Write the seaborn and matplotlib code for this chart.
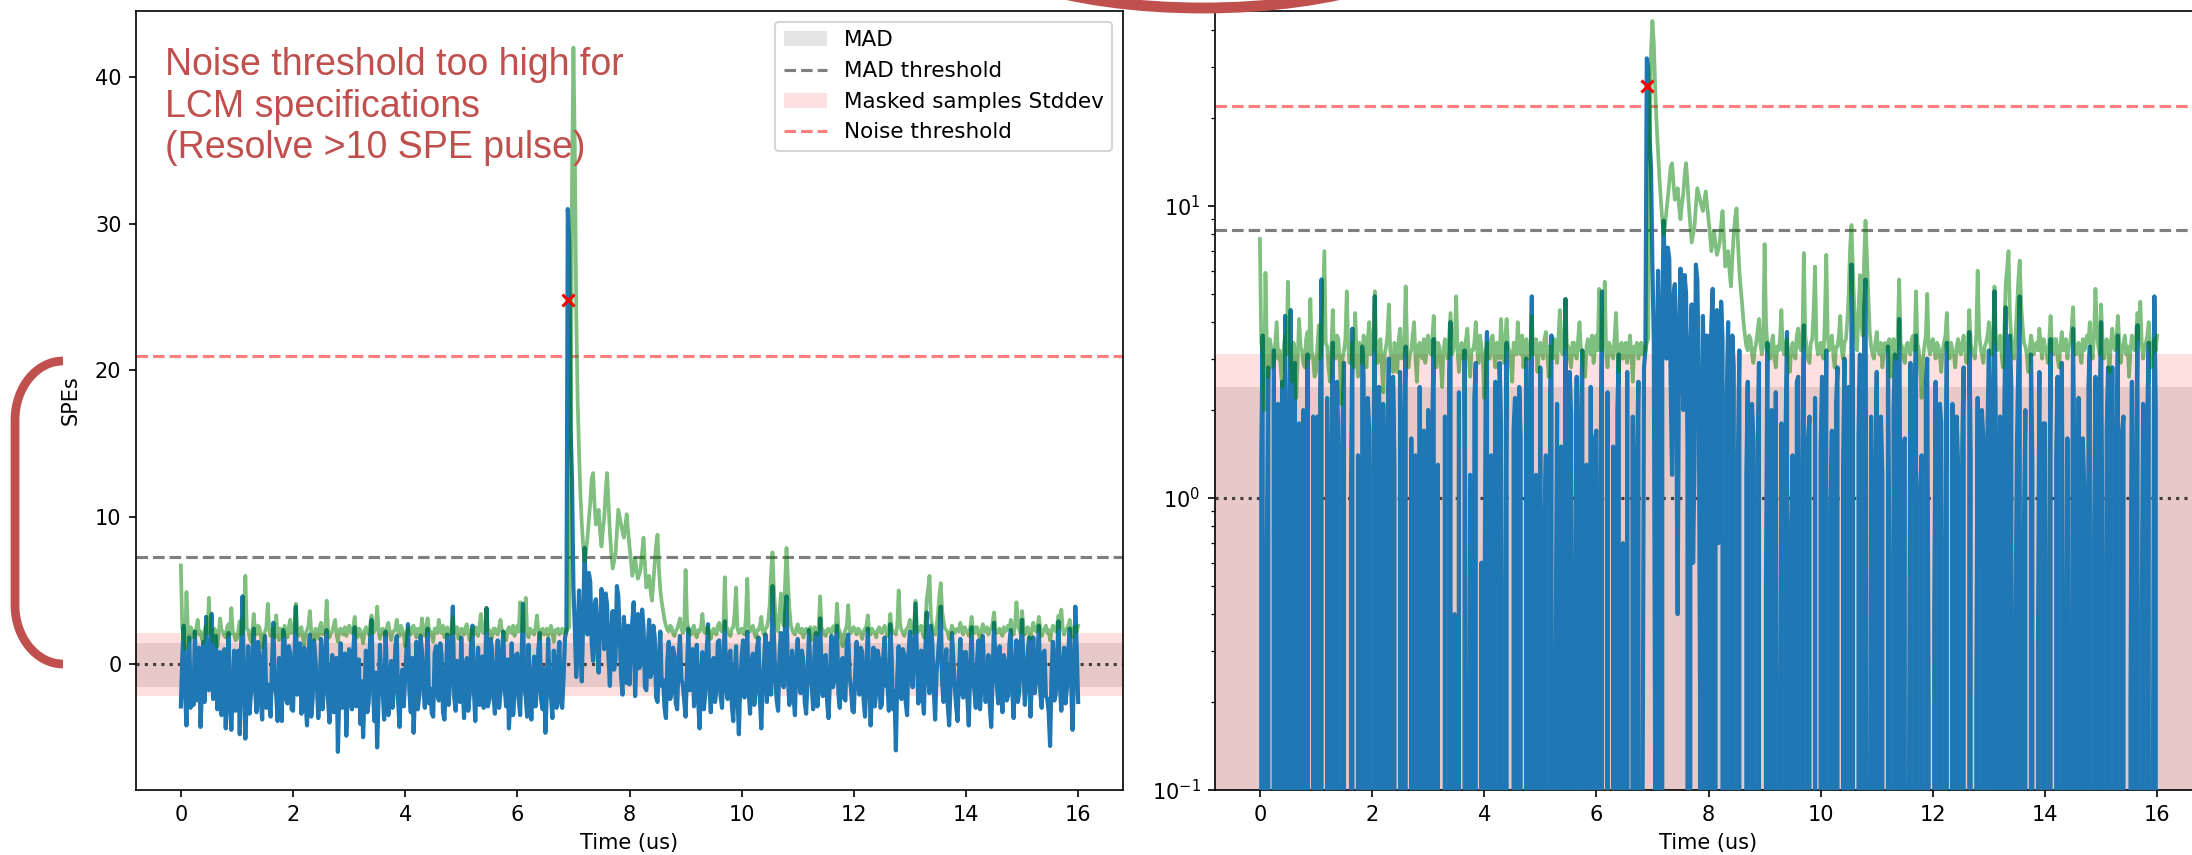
import numpy as np
import matplotlib
matplotlib.use("Agg")
import matplotlib.pyplot as plt
import seaborn as sns
from matplotlib.patches import Ellipse, PathPatch, Patch
from matplotlib.lines import Line2D
from matplotlib.path import Path
from matplotlib.transforms import IdentityTransform

# ---------------- data ----------------
sample_step_us = 0.025

# raw waveform (SPE units), 40 samples per microsecond
waveform_spe = [
    -2.9, 0.4, 2.6, -1.9, -4.2, -0.3, 1.8, -3.0, -1.2, -2.8, 2.2, -1.5, -2.5, 1.1, -4.3, -2.0, 1.5, -2.6, 3.2, -0.9,
    -1.8, 0.6, 3.4, -2.4, -0.6, 1.9, -3.1, -1.3, 0.8, -3.5, -2.2, 1.0, -4.4, -1.1, 2.1, -2.7, -4.5, -1.6, 0.9, -3.2,
    -2.6, 0.9, -4.8, 1.3, 4.6, -1.7, -5.1, -2.2, 1.2, -3.4, -2.0, 0.3, 2.4, -1.8, -3.3, 1.5, 0.5, -2.5, -3.8, 0.8,
    1.9, -3.0, -1.4, -2.6, -3.6, 0.1, 2.8, -1.6, -2.1, -3.9, 0.4, -1.2, -3.9, 2.3, 1.6, -2.4, -2.7, 1.2, 0.7, -3.1,
    -3.2, 0.2, 3.9, -2.1, -1.5, 1.4, -3.4, -1.9, 1.1, -2.7, -4.2, 0.5, 2.0, -3.6, -2.4, 1.6, 0.3, -1.4, -3.7, -2.2,
    1.7, -3.1, -1.9, 0.9, 2.3, -2.5, -4.0, -1.0, 0.6, -3.3, -2.8, 0.4, -6.0, -2.0, 1.4, -3.0, -2.3, 0.7, -4.9, -1.8,
    1.0, -2.2, -3.1, 0.8, 2.5, -2.9, -1.6, 0.3, -4.1, -1.2, -5.0, -1.9, 0.9, -3.3, -2.6, 1.7, 3.0, -1.5, -3.9, -0.6,
    -5.7, -2.4, 1.3, -1.1, -2.0, -3.8, 2.2, -0.8, -3.5, -2.1, 0.2, -3.0, -1.8, 1.2, 1.9, -2.6, -4.3, -1.4, -0.4, -2.9,
    -0.8, 1.1, 2.7, -1.9, -3.3, 0.4, -4.7, -2.0, 1.5, -3.1, -2.2, 1.9, 0.8, -1.6, -3.0, -0.5, 2.4, -2.7, -1.7, -3.4,
    -3.6, 0.7, 1.2, -2.1, -2.5, 1.4, 0.6, -3.3, -3.8, -1.2, 2.0, -2.8, -1.3, 1.0, 3.9, -2.3, -3.2, 0.2, -1.0, -2.6,
    1.8, -1.4, -3.7, -0.2, 0.4, -3.2, -2.1, 1.3, 2.6, -1.8, -3.9, -0.7, 1.1, -2.8, -1.6, 0.5, -3.0, -1.3, 3.8, -2.9,
    -2.4, 1.7, 0.9, -2.2, -3.4, -0.4, 1.6, -3.0, -1.9, 0.8, 2.2, -1.7, -2.9, 0.3, -4.4, -2.3, 1.4, -3.5, -2.0, 0.6,
    0.7, -2.4, -3.5, 0.1, 4.1, -1.5, -2.3, -3.6, 1.3, -2.0, -3.8, -1.1, 0.5, -2.9, -1.7, 1.0, 2.1, -2.5, -3.1, -0.3,
    -4.7, -2.2, 1.7, -1.4, -2.2, -3.7, 0.9, -1.8, -3.0, 0.4, 1.5, -2.6, -3.0, -0.9, 1.8, 2.2, 31.0, 28.7, 16.0, 12.5,
    5.2, 2.4, -0.9, 1.2, 5.0, 0.8, -1.2, 3.3, 7.9, 4.1, 2.0, 6.2, 5.6, 1.5, 0.2, 3.9, 4.4, 1.1, -0.6, 2.7,
    5.1, 3.0, 1.0, 4.8, 4.0, 0.5, -1.5, 2.2, 3.6, -0.4, 0.3, 5.3, 4.6, 1.8, -0.8, -2.1, 3.2, 1.4, -1.3, 2.6,
    -1.4, 0.9, 2.9, 4.2, -2.2, 0.6, 3.4, -0.3, 0.1, 3.7, 2.5, -1.6, -1.8, 1.2, 3.0, -0.9, -0.5, 2.6, 1.8, -2.3,
    -2.6, 0.4, 2.2, -1.5, -1.1, -3.0, -3.7, 0.2, 1.5, -2.4, -2.0, 1.1, 0.6, -2.7, -3.1, 0.3, 1.9, -1.0, -1.4, -2.5,
    -3.6, -0.5, 2.4, -1.8, -0.7, 1.0, -2.9, -1.2, 1.3, -2.5, -4.4, -0.8, 0.8, -3.1, -2.1, 0.7, 2.7, -1.4, -3.3, -0.2,
    0.4, -2.6, -1.8, 1.5, 1.6, -2.2, -3.0, 0.3, 2.9, -1.7, -2.4, 0.6, 0.9, -2.8, -3.9, -1.0, 1.2, -2.0, -4.8, -1.3,
    0.5, 1.6, -2.3, -0.6, 2.2, -1.9, -3.4, -0.1, 0.7, -2.8, -1.9, 1.1, 1.8, -2.4, -4.4, -1.5, 0.3, 2.0, -2.6, -0.7,
    1.4, -2.1, 5.3, 1.9, -1.0, -2.5, -3.2, 0.6, 2.1, -1.1, -1.6, 3.4, 4.6, -0.9, -2.8, -1.4, 0.9, -2.2, -3.5, 0.2,
    1.7, -1.3, -2.0, 0.9, 0.2, -2.6, -3.4, -1.0, 2.3, -0.4, -1.5, -3.1, 1.0, 2.1, -2.9, -1.8, 3.1, -0.7, -2.2, 0.5,
    0.6, -2.7, -3.7, -0.9, 1.9, -1.6, -1.2, 1.3, 2.6, -2.0, -3.0, 0.1, 0.4, -2.3, -2.5, 1.5, 2.0, -0.8, -1.7, -3.2,
    -3.3, -0.6, 1.5, -1.4, -2.1, 1.1, 0.8, -2.5, -3.6, -0.3, 2.4, -1.2, -4.2, -1.7, 1.1, -2.9, -1.9, 0.9, 0.3, -3.0,
    -2.8, 0.5, 1.8, -1.5, -1.3, -3.2, 2.7, 0.4, -3.1, -1.9, -5.9, -0.8, 1.2, -2.1, -2.4, 1.0, 0.6, -2.6, -3.5, 0.7,
    2.2, -0.5, -1.6, 1.3, 4.1, 0.6, -2.7, -1.2, 0.9, -2.2, -3.4, 1.0, 3.5, -0.9, -2.0, 2.6, 1.4, -1.7, -3.8, -0.6,
    0.5, 1.9, 3.9, -1.3, -2.6, -0.2, 1.0, -2.8, -4.2, -1.5, 2.1, 0.3, -1.5, -2.9, -3.9, -0.7, 1.7, -1.9, -2.3, 0.8,
    0.8, -2.3, -4.2, -0.4, 2.5, -1.1, -1.8, -3.0, 0.4, 1.6, -3.1, -1.6, 1.9, -0.7, -2.6, -1.3, 0.6, -2.9, -4.3, -0.9,
    2.8, 0.2, -1.4, -2.7, 1.2, -1.0, -3.3, 0.6, 0.1, -2.5, -2.2, 1.4, 2.3, -1.8, -3.7, -0.3, 1.6, -2.6, -1.9, 1.1,
    3.0, -0.4, -2.8, -1.5, 0.7, 1.8, -3.6, -1.1, 1.8, -2.0, -1.2, 0.4, 2.6, -1.9, -3.0, 0.7, 0.9, -2.2, -2.4, -3.3,
    -5.6, -0.8, 1.5, -2.5, -2.1, 0.5, 2.9, -1.4, -3.2, -0.6, 1.1, -2.7, -1.6, 0.9, 2.4, -1.2, -4.5, -0.9, 3.9, 1.0,
    -2.6,
]

# filtered waveform (SPE units), 40 samples per microsecond
filtered_spe = [
    6.7, 2.4, 2.1, 1.0, 4.9, 2.2, 1.6, 2.5, 2.3, 1.8, 1.9, 2.4, 3.0, 2.0, 2.2, 1.7, 1.4, 2.3, 2.6, 2.1,
    4.5, 2.2, 2.0, 1.5, 2.4, 2.2, 1.2, 2.0, 3.1, 2.3, 2.2, 1.9, 1.8, 2.5, 2.7, 2.0, 3.8, 2.2, 2.0, 1.6,
    1.7, 2.3, 2.9, 2.0, 2.1, 3.6, 6.0, 2.4, 2.3, 1.8, 1.5, 2.2, 3.4, 2.1, 2.0, 2.6, 2.5, 1.9, 1.1, 2.0,
    2.2, 2.5, 4.1, 2.3, 1.9, 2.2, 2.4, 1.8, 3.3, 2.1, 1.6, 2.4, 2.1, 1.9, 2.6, 2.2, 1.8, 2.5, 3.0, 2.1,
    2.2, 2.6, 4.1, 2.2, 1.9, 2.3, 2.5, 1.8, 1.3, 2.1, 2.3, 2.6, 3.6, 2.2, 2.0, 1.7, 2.4, 2.2, 1.7, 2.5,
    2.8, 2.0, 2.1, 2.4, 4.3, 2.3, 1.8, 2.1, 2.2, 2.6, 3.0, 2.0, 1.5, 2.3, 2.4, 2.1, 2.0, 2.5, 1.9, 2.2,
    2.6, 2.2, 2.1, 2.5, 3.2, 2.0, 1.8, 2.4, 2.3, 1.9, 1.4, 2.2, 2.5, 2.3, 2.0, 2.6, 3.3, 2.1, 2.2, 2.5,
    3.9, 2.2, 1.7, 2.3, 2.4, 2.0, 2.0, 2.5, 2.8, 2.1, 1.6, 2.2, 2.2, 2.4, 3.0, 2.2, 1.9, 2.6, 2.3, 2.0,
    1.2, 2.1, 2.4, 2.2, 2.0, 2.5, 2.6, 2.1, 1.8, 2.4, 2.3, 2.0, 3.1, 2.2, 1.9, 2.5, 3.1, 2.3, 2.2, 1.9,
    1.5, 2.4, 2.4, 2.1, 3.0, 2.2, 2.1, 2.6, 1.8, 2.3, 2.5, 2.0, 2.0, 2.4, 3.2, 2.1, 2.3, 2.5, 1.7, 2.2,
    2.4, 2.2, 2.0, 2.5, 2.7, 2.1, 1.6, 2.3, 2.2, 2.0, 2.5, 2.3, 1.9, 2.6, 3.4, 2.2, 2.1, 2.4, 3.8, 2.3,
    2.3, 2.0, 1.8, 2.4, 2.4, 2.1, 2.0, 2.5, 3.0, 2.2, 2.2, 1.9, 1.6, 2.3, 2.5, 2.2, 2.1, 2.6, 1.9, 2.2,
    2.6, 2.2, 4.2, 2.3, 2.2, 2.6, 4.5, 2.1, 1.8, 2.4, 2.3, 2.1, 2.0, 2.5, 3.3, 2.2, 1.7, 2.3, 2.4, 2.0,
    2.1, 2.4, 1.9, 2.2, 2.6, 2.1, 1.5, 2.3, 2.2, 2.4, 2.0, 2.2, 2.4, 2.1, 2.3, 2.2, 2.4, 2.5, 14.0, 33.0,
    42.0, 35.0, 24.0, 18.0, 14.5, 11.5, 9.5, 8.0, 7.0, 7.6, 8.6, 9.8, 11.0, 12.6, 13.0, 11.0, 9.5, 9.9, 10.5, 9.0,
    8.0, 9.1, 10.0, 11.8, 13.0, 11.0, 9.0, 7.6, 6.5, 7.0, 7.5, 9.0, 10.5, 10.0, 9.5, 9.0, 8.6, 9.4, 10.2, 9.0,
    8.0, 7.1, 6.0, 6.6, 7.2, 6.4, 5.8, 6.1, 6.5, 7.6, 8.6, 6.8, 5.2, 5.5, 6.0, 5.0, 4.3, 5.6, 7.0, 8.1,
    8.8, 6.5, 5.0, 4.2, 3.6, 3.0, 2.6, 2.3, 2.2, 2.6, 2.5, 2.1, 1.9, 2.2, 2.4, 2.7, 3.1, 2.4, 2.1, 2.3,
    6.4, 3.0, 2.3, 2.1, 2.0, 2.4, 2.6, 2.0, 1.8, 2.3, 2.2, 2.5, 3.4, 2.2, 2.1, 2.4, 2.5, 2.0, 1.7, 2.2,
    2.4, 2.1, 2.0, 2.6, 2.8, 2.3, 2.2, 2.5, 5.9, 2.6, 2.3, 2.0, 1.9, 2.4, 2.5, 3.4, 5.2, 2.4, 2.1, 2.3,
    2.4, 2.1, 2.0, 3.1, 5.8, 2.6, 2.2, 2.4, 2.6, 2.1, 1.8, 2.3, 2.3, 2.6, 3.2, 2.2, 2.0, 2.4, 2.5, 3.0,
    4.0, 6.2, 7.6, 5.0, 3.5, 2.6, 2.2, 3.3, 4.8, 3.0, 2.6, 5.5, 7.9, 5.6, 3.8, 2.7, 2.3, 2.1, 2.0, 2.4,
    2.7, 2.2, 2.1, 2.4, 1.8, 2.1, 2.4, 2.2, 2.2, 2.5, 1.6, 2.1, 2.5, 2.3, 2.0, 2.6, 4.6, 2.4, 2.3, 2.0,
    1.9, 2.3, 2.4, 2.2, 2.1, 2.5, 2.6, 2.2, 4.1, 2.4, 2.2, 1.7, 1.2, 2.0, 2.3, 2.6, 4.0, 2.3, 2.1, 2.4,
    2.5, 2.2, 2.0, 2.4, 2.3, 2.1, 1.7, 2.2, 2.4, 2.6, 3.3, 2.2, 2.0, 2.4, 2.2, 2.1, 1.8, 2.3, 2.5, 2.2,
    2.1, 2.4, 2.6, 2.2, 1.9, 2.3, 3.4, 2.4, 2.2, 2.1, 2.0, 2.6, 5.0, 2.7, 2.3, 2.1, 1.9, 2.3, 2.4, 2.6,
    3.0, 2.4, 2.1, 2.6, 4.3, 2.5, 2.2, 2.4, 2.6, 2.1, 1.8, 2.7, 4.4, 5.1, 6.0, 3.2, 2.5, 2.2, 2.0, 2.6,
    3.4, 4.6, 5.5, 3.6, 2.9, 2.4, 2.3, 2.1, 1.7, 2.2, 2.6, 2.4, 2.1, 2.3, 2.4, 2.2, 2.8, 2.3, 2.0, 2.5,
    2.3, 2.2, 1.9, 2.4, 3.2, 2.3, 2.1, 2.5, 2.5, 2.0, 1.8, 2.3, 2.7, 2.2, 2.2, 2.5, 2.0, 2.3, 2.4, 2.8,
    3.5, 2.4, 2.1, 2.2, 2.4, 2.1, 1.9, 2.5, 2.2, 2.3, 2.6, 2.4, 3.0, 2.2, 2.0, 2.6, 4.2, 2.8, 2.3, 2.1,
    3.6, 2.5, 2.0, 2.3, 2.5, 2.2, 1.7, 2.4, 2.8, 2.3, 2.2, 2.5, 3.2, 2.4, 1.9, 2.2, 2.4, 2.6, 2.1, 2.3,
    1.6, 2.2, 2.6, 2.4, 2.2, 2.6, 3.3, 2.5, 3.7, 2.4, 2.0, 2.3, 2.4, 2.6, 3.0, 2.3, 1.8, 2.4, 2.5, 2.2,
    2.6,
]

mad_band = [-1.55, 1.40]
std_band = [-2.20, 2.10]
mad_threshold = 7.3
noise_threshold = 21.0
baseline = 0.0
peak_time_us = 6.9
peak_value = 24.8
log_offset = 1.0

legend_labels = ["MAD", "MAD threshold", "Masked samples Stddev", "Noise threshold"]
annotation_text = "Noise threshold too high for\nLCM specifications\n(Resolve >10 SPE pulse)"

wave = np.array(waveform_spe)
filt = np.array(filtered_spe)
t_wave = np.arange(len(wave)) * sample_step_us
t_filt = np.arange(len(filt)) * sample_step_us

# ---------------- figure ----------------
W, H, DPI = 2192, 855, 150
fig = plt.figure(figsize=(W / DPI, H / DPI), dpi=DPI)
ax1 = fig.add_axes([136 / W, 1 - 790 / H, (1123 - 136) / W, (790 - 11) / H])
ax2 = fig.add_axes([1215 / W, 1 - 790 / H, (2202 - 1215) / W, (790 - 11) / H])

annot_red = "#C0504D"


def draw_panel(ax, off, log=False):
    lo = 1e-4

    def low(v):
        return max(v + off, lo) if log else v + off

    ax.axhspan(low(mad_band[0]), mad_band[1] + off, color="gray", alpha=0.2, lw=0, zorder=1)
    ax.axhline(mad_threshold + off, color="k", ls="--", alpha=0.5, lw=1.5, zorder=2)
    ax.axhspan(low(std_band[0]), std_band[1] + off, color="red", alpha=0.12, lw=0, zorder=1)
    ax.axhline(noise_threshold + off, color="red", ls="--", alpha=0.5, lw=1.5, zorder=2)
    ax.axhline(baseline + off, color="k", ls=":", alpha=0.7, lw=1.5, zorder=2)
    sns.lineplot(x=t_wave, y=wave + off, ax=ax, color="#1f77b4", lw=2.0,
                 estimator=None, sort=False, zorder=3)
    sns.lineplot(x=t_filt, y=filt + off, ax=ax, color="green", alpha=0.5, lw=1.8,
                 estimator=None, sort=False, zorder=3)
    ax.plot([peak_time_us], [peak_value + off], "x", color="red", ms=6, mew=1.5, zorder=4)
    ax.set_xlim(-0.8, 16.8)
    ax.set_xlabel("Time (us)")
    ax.set_ylabel("")


draw_panel(ax1, 0.0)
ax1.set_ylim(-8.6, 44.5)
ax1.set_yticks([0, 10, 20, 30, 40])
ax1.set_ylabel("SPEs", labelpad=7)

draw_panel(ax2, log_offset, log=True)
ax2.set_yscale("log")
ax2.set_ylim(0.1, 46.5)

for ax in (ax1, ax2):
    ax.set_xticks(range(0, 17, 2))

handles = [
    Patch(facecolor="gray", alpha=0.2, edgecolor="none"),
    Line2D([0], [0], color="k", ls="--", alpha=0.5, lw=1.5),
    Patch(facecolor="red", alpha=0.12, edgecolor="none"),
    Line2D([0], [0], color="red", ls="--", alpha=0.5, lw=1.5),
]
ax1.legend(handles, legend_labels, loc="upper right", fontsize=10.3)

fig.text(165 / W, 1 - 47 / H, annotation_text, ha="left", va="top",
         fontsize=18, family="Liberation Sans", color=annot_red, linespacing=1.2)

# ---- red presentation marks ----
ident = IdentityTransform()
ell = Ellipse((1203, H + 75), width=500, height=166, fill=False,
              edgecolor=annot_red, lw=5.2, transform=ident, clip_on=False, zorder=10)
fig.add_artist(ell)


def img(x, y):
    return (x, H - y)


verts = [img(63, 361), img(36.6, 361), img(15, 387.5), img(15, 420),
         img(15, 605), img(15, 637.5), img(36.6, 664), img(63, 664)]
codes = [Path.MOVETO, Path.CURVE4, Path.CURVE4, Path.CURVE4,
         Path.LINETO, Path.CURVE4, Path.CURVE4, Path.CURVE4]
bracket = PathPatch(Path(verts, codes), fill=False, edgecolor=annot_red, lw=4.2,
                    capstyle="butt", transform=ident, clip_on=False, zorder=10)
fig.add_artist(bracket)

fig.savefig("out.png", dpi=DPI)
